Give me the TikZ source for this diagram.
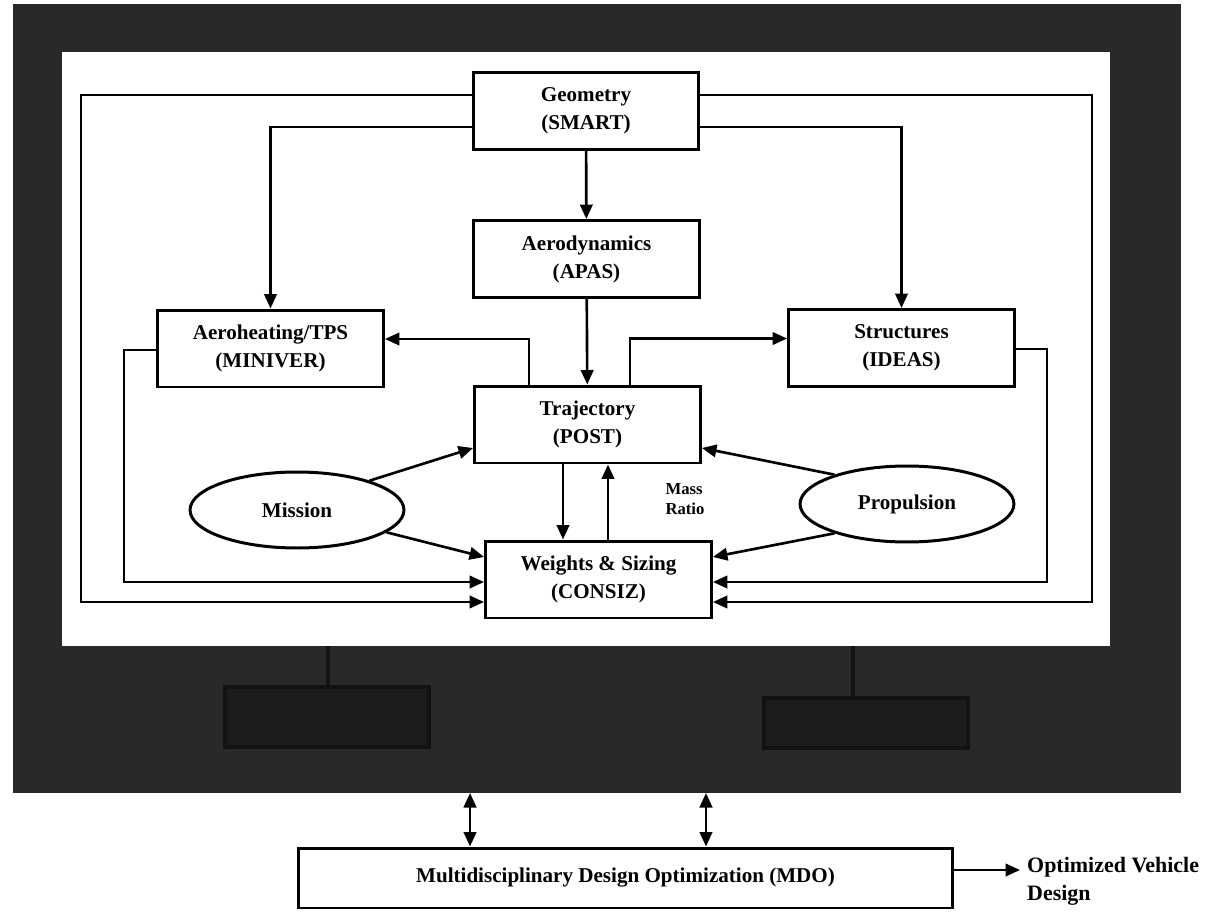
\documentclass[tikz,border=0pt]{standalone}
\usepackage{fontspec}
\setmainfont{Liberation Serif}
\usepackage{tikz}
\usetikzlibrary{arrows.meta, positioning, shapes.geometric}

\begin{document}
\begin{tikzpicture}[x=0.02cm,y=-0.02cm,line width=1.5pt,>={Triangle[length=0.29cm,width=0.25cm]},
	font=\fontsize{12}{16}\selectfont\bfseries]
			\tikzstyle{module}=[draw,line width=1.7pt,fill=white,align=center,minimum width=4.52cm,minimum height=1.54cm,inner sep=2pt]
			\tikzstyle{input}=[draw,line width=1.7pt,fill=white,ellipse,minimum width=4.28cm,minimum height=1.52cm]
			\useasboundingbox (0,0) rectangle (1221,916);
			
			% dark frame round the analysis loop
			\fill[black!84] (13,4) rectangle (1181,793);
			\fill[white] (62,52) rectangle (1110,646);
			\draw[black!93,line width=2.5pt,fill=black!89] (225,687) rectangle (429,747) (328,646) -- (328,687);
			\draw[black!93,line width=2.5pt,fill=black!89] (764,698) rectangle (968,748) (853,646) -- (853,698);
			\coordinate (fb) at (0,793);
			\coordinate (ol) at (81,0);
			\coordinate (il) at (124,0);
			\coordinate (ir) at (1047,0);
			\coordinate (or) at (1092,0);
			
			\node[module] (geo) at (586,111) {Geometry\\(SMART)};
			\node[module] (aero) at (586.5,259) {Aerodynamics\\(APAS)};
			\node[module] (heat) at (270.5,348.5) {Aeroheating/TPS\\(MINIVER)};
			\node[module] (struct) at (901.5,348) {Structures\\(IDEAS)};
			\node[module] (traj) at (587.5,424.5) {Trajectory\\(POST)};
			\node[module] (wts) at (598.5,579.5) {Weights \& Sizing\\(CONSIZ)};
			\node[input] (mission) at (297,510) {Mission};
			\node[input] (prop) at (907,504) {Propulsion};
			\node[align=left,font=\fontsize{9.5}{11.5}\selectfont\bfseries] (mass) at (685,499) {Mass\\Ratio};
			\node[module,minimum width=13.1cm,minimum height=1.2cm] (mdo) at (625.5,878) {Multidisciplinary Design Optimization (MDO)};
			\node[anchor=west,align=left,font=\fontsize{12.5}{16}\selectfont\bfseries] (out) at (1020,881) {Optimized Vehicle\\Design};
			
			% entry points on the weights box
			\coordinate (wl1) at ([yshift=-.05cm]wts.west);
			\coordinate (wl2) at ([yshift=-.45cm]wts.west);
			\coordinate (wr1) at ([yshift=-.05cm]wts.east);
			\coordinate (wr2) at ([yshift=-.45cm]wts.east);
			
			\draw[->] (geo) -- (aero);
			\draw[->] (aero) -- (traj);
			\draw[->] ([yshift=-.32cm]geo.west) -| (heat.north);
			\draw[->] ([yshift=-.32cm]geo.east) -| (struct.north);
			\draw[->] ([yshift=.32cm]geo.west) -| (ol |- wl2) -- (wl2);
			\draw[->] ([yshift=.32cm]geo.east) -| (or |- wr2) -- (wr2);
			\draw[->] ([yshift=-.03cm]heat.west) -| (il |- wl1) -- (wl1);
			\draw[->] ([yshift=-.02cm]struct.east) -| (ir |- wr1) -- (wr1);
			\draw[->] ([xshift=-1.17cm]traj.north) |- ([yshift=.19cm]heat.east);
			\draw[->] ([xshift=.85cm]traj.north) |- ([yshift=.19cm]struct.west);
			\draw[->] ([xshift=-.49cm]traj.south) -- ([xshift=-.49cm]traj.south |- wts.north);
			\draw[->] ([xshift=.19cm]wts.north) -- ([xshift=.19cm]wts.north |- traj.south);
			\path[->]
			(mission.22) edge ([yshift=-.47cm]traj.west)
			(mission.-14) edge ([yshift=.45cm]wts.west)
			(prop.158) edge ([yshift=-.47cm]traj.east)
			(prop.-158) edge ([yshift=.45cm]wts.east);
			\draw[<->] ([xshift=-3.11cm]mdo.north |- fb) -- ([xshift=-3.11cm]mdo.north);
			\draw[<->] ([xshift=1.61cm]mdo.north |- fb) -- ([xshift=1.61cm]mdo.north);
			\draw[->] ([yshift=.16cm]mdo.east) -- ([yshift=.16cm]mdo.east -| out.west);
		\end{tikzpicture}
\end{document}
